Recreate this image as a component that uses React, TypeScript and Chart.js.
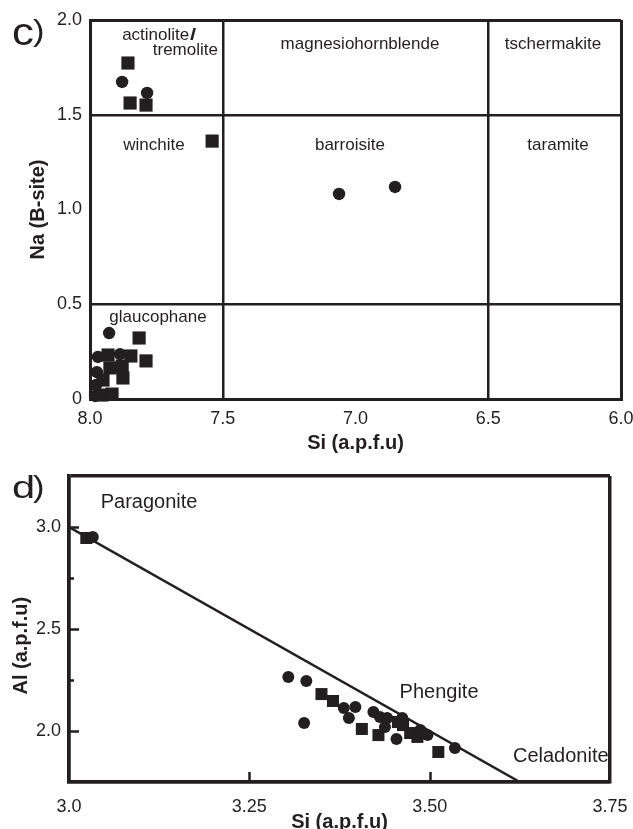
import React, { useEffect, useRef } from 'react';
import { Chart, registerables } from 'chart.js';

Chart.register(...registerables);

const INK = '#231f20';
const FONT = 'Arial, "Liberation Sans", Helvetica, sans-serif';

// ---------- Panel c: amphibole, Si vs Na (B-site) ----------
const cSiTicks = [8, 7.5, 7, 6.5, 6];
const cSiTickLabels = ['8.0', '7.5', '7.0', '6.5', '6.0'];
const cNaTicks = [0, 0.5, 1, 1.5, 2];
const cNaTickLabels = ['0', '0.5', '1.0', '1.5', '2.0'];
const cSiBoundaries = [8, 7.5, 6.5, 6];
const cNaBoundaries = [0, 0.5, 1.5, 2];

const amphCircleSi = [7.879, 7.785, 7.062, 6.851, 7.928, 7.970, 7.887, 7.974, 7.977, 7.981];
const amphCircleNa = [1.673, 1.615, 1.082, 1.119, 0.348, 0.222, 0.237, 0.142, 0.074, 0.016];
const amphSquareSi = [7.857, 7.849, 7.789, 7.540, 7.815, 7.932, 7.846, 7.789, 7.925, 7.879, 7.876, 7.951, 7.955, 7.917];
const amphSquareNa = [1.773, 1.562, 1.551, 1.361, 0.322, 0.232, 0.227, 0.201, 0.164, 0.174, 0.111, 0.100, 0.021, 0.026];

// ---------- Panel d: white mica, Si vs Al ----------
const dSiTicks = [3, 3.25, 3.5, 3.75];
const dSiTickLabels = ['3.0', '3.25', '3.50', '3.75'];
const dAlTicks = [2, 2.5, 3];
const dAlTickLabels = ['2.0', '2.5', '3.0'];
const dAlMinorTicks = [2.25, 2.75];
const dSiInnerTicks = [3.25, 3.5];

const micaCircleSi = [3.033, 3.304, 3.329, 3.326, 3.381, 3.397, 3.388, 3.422, 3.431, 3.441, 3.438, 3.462, 3.454, 3.487, 3.497, 3.535];
const micaCircleAl = [2.951, 2.265, 2.245, 2.039, 2.113, 2.118, 2.064, 2.093, 2.069, 2.064, 2.020, 2.064, 1.961, 2.005, 1.980, 1.917];
const micaSquareSi = [3.024, 3.350, 3.366, 3.406, 3.429, 3.463, 3.473, 3.483, 3.512, 3.456];
const micaSquareAl = [2.946, 2.181, 2.147, 2.010, 1.980, 2.029, 1.990, 1.971, 1.897, 2.044];

const tieLineSi = [3.0, 3.625];
const tieLineAl = [3.0, 1.75];

const zip = (xs: number[], ys: number[]) => xs.map((x, i) => ({ x, y: ys[i] }));
const near = (a: number, b: number) => Math.abs(a - b) < 1e-6;
const labelFrom = (vals: number[], labels: string[]) => (v: any) => {
  const i = vals.findIndex((t) => near(t, Number(v)));
  return i >= 0 ? labels[i] : '';
};

type Note = {
  text: string; x: number; y: number; size: number; bold?: boolean;
  align?: CanvasTextAlign; baseline?: CanvasTextBaseline; px?: boolean; sx?: number;
};

function notesPlugin(notes: Note[]) {
  return {
    id: 'notes',
    afterDraw(chart: any) {
      const { ctx } = chart;
      const xs = chart.scales.x;
      const ys = chart.scales.y;
      notes.forEach((n) => {
        const px = n.px ? n.x : xs.getPixelForValue(n.x);
        const py = n.px ? n.y : ys.getPixelForValue(n.y);
        ctx.save();
        ctx.font = `${n.bold ? 'bold ' : ''}${n.size}px ${FONT}`;
        ctx.fillStyle = INK;
        ctx.textAlign = n.align ?? 'center';
        ctx.textBaseline = n.baseline ?? 'middle';
        ctx.translate(px, py);
        ctx.scale(n.sx ?? 1, 1);
        ctx.fillText(n.text, 0, 0);
        ctx.restore();
      });
    },
  };
}

const inwardTicksPlugin = {
  id: 'inwardTicks',
  afterDatasetsDraw(chart: any) {
    const { ctx, chartArea } = chart;
    const xs = chart.scales.x;
    const ys = chart.scales.y;
    ctx.save();
    ctx.strokeStyle = INK;
    ctx.lineWidth = 2.5;
    ctx.beginPath();
    dAlTicks.forEach((v) => {
      const y = Math.round(ys.getPixelForValue(v)) + 0.5;
      ctx.moveTo(chartArea.left, y);
      ctx.lineTo(chartArea.left + 10, y);
    });
    dAlMinorTicks.forEach((v) => {
      const y = Math.round(ys.getPixelForValue(v)) + 0.5;
      ctx.moveTo(chartArea.left, y);
      ctx.lineTo(chartArea.left + 5, y);
    });
    dSiInnerTicks.forEach((v) => {
      const x = Math.round(xs.getPixelForValue(v)) + 0.5;
      ctx.moveTo(x, chartArea.bottom);
      ctx.lineTo(x, chartArea.bottom - 10);
    });
    ctx.stroke();
    ctx.restore();
  },
};

const tickFont = { family: FONT, size: 18 };
const titleFont = { family: FONT, size: 20, weight: 'bold' as const };

const cNotes: Note[] = [
  { text: 'c', x: 12, y: 45, size: 38, px: true, align: 'left', baseline: 'alphabetic', sx: 1.15 },
  { text: ')', x: 33, y: 41, size: 30, px: true, align: 'left', baseline: 'alphabetic', sx: 1.15 },
  { text: 'actinolite', x: 7.879, y: 1.921, size: 17, align: 'left' },
  { text: '/', x: 7.623, y: 1.921, size: 17, bold: true, align: 'left', sx: 1.3 },
  { text: 'tremolite', x: 7.518, y: 1.842, size: 17, align: 'right' },
  { text: 'magnesiohornblende', x: 6.983, y: 1.873, size: 17 },
  { text: 'tschermakite', x: 6.256, y: 1.873, size: 17 },
  { text: 'winchite', x: 7.759, y: 1.34, size: 17 },
  { text: 'barroisite', x: 7.021, y: 1.34, size: 17 },
  { text: 'taramite', x: 6.237, y: 1.34, size: 17 },
  { text: 'glaucophane', x: 7.744, y: 0.433, size: 17 },
];

const dNotes: Note[] = [
  { text: 'd', x: 12, y: 38, size: 32, px: true, align: 'left', baseline: 'alphabetic', sx: 1.3 },
  { text: ')', x: 33, y: 37, size: 30, px: true, align: 'left', baseline: 'alphabetic', sx: 1.15 },
  { text: 'Paragonite', x: 3.111, y: 3.118, size: 20 },
  { text: 'Phengite', x: 3.513, y: 2.191, size: 20 },
  { text: 'Celadonite', x: 3.748, y: 1.873, size: 20, align: 'right' },
];

function makeC(canvas: HTMLCanvasElement) {
  const edgeOrInner = (bounds: number[], edges: number[]) => ({
    color: (ctx: any) => (ctx.tick && bounds.some((b) => near(b, ctx.tick.value)) ? INK : 'rgba(0,0,0,0)'),
    lineWidth: (ctx: any) => (ctx.tick && edges.some((b) => near(b, ctx.tick.value)) ? 3 : 2.5),
    drawTicks: false,
  });
  return new Chart(canvas, {
    type: 'scatter',
    data: {
      datasets: [
        {
          label: 'Amphibole (circles)',
          data: zip(amphCircleSi, amphCircleNa),
          pointStyle: 'circle',
          pointRadius: 6.2,
          pointBackgroundColor: INK,
          pointBorderColor: INK,
          pointBorderWidth: 0,
          clip: false,
        } as any,
        {
          label: 'Amphibole (squares)',
          data: zip(amphSquareSi, amphSquareNa),
          pointStyle: 'rect',
          pointRadius: 9.3,
          pointBackgroundColor: INK,
          pointBorderColor: INK,
          pointBorderWidth: 0,
          clip: false,
        } as any,
      ],
    },
    options: {
      animation: false,
      responsive: false,
      devicePixelRatio: 1,
      events: [],
      layout: { padding: { left: 0, top: 20, right: 12, bottom: 0 } },
      plugins: { legend: { display: false }, tooltip: { enabled: false } },
      scales: {
        x: {
          type: 'linear',
          min: 6,
          max: 8,
          reverse: true,
          afterFit: (s: any) => { s.height = 61; s.paddingLeft = 0; s.paddingRight = 0; },
          ticks: { stepSize: 0.5, autoSkip: false, maxRotation: 0, padding: 9, color: INK, font: tickFont, callback: labelFrom(cSiTicks, cSiTickLabels) },
          grid: edgeOrInner(cSiBoundaries, [8, 6]),
          border: { display: true, color: INK, width: 3 },
          title: { display: true, text: 'Si (a.p.f.u)', color: INK, font: titleFont, padding: { top: 0, bottom: 5 } },
        },
        y: {
          type: 'linear',
          min: 0,
          max: 2,
          afterFit: (s: any) => { s.width = 90; s.paddingTop = 0; s.paddingBottom = 0; },
          ticks: { stepSize: 0.5, autoSkip: false, padding: 8, color: INK, font: tickFont, callback: labelFrom(cNaTicks, cNaTickLabels) },
          grid: edgeOrInner(cNaBoundaries, [0, 2]),
          border: { display: true, color: INK, width: 3 },
          title: { display: true, text: 'Na (B-site)', color: INK, font: titleFont, padding: { top: 26, bottom: 0 } },
        },
      },
    } as any,
    plugins: [notesPlugin(cNotes)],
  });
}

function makeD(canvas: HTMLCanvasElement) {
  const frame = (edges: number[]) => ({
    color: (ctx: any) => (ctx.tick && edges.some((b) => near(b, ctx.tick.value)) ? INK : 'rgba(0,0,0,0)'),
    lineWidth: 3.5,
    drawTicks: false,
  });
  return new Chart(canvas, {
    type: 'scatter',
    data: {
      datasets: [
        {
          label: 'White mica (circles)',
          data: zip(micaCircleSi, micaCircleAl),
          pointStyle: 'circle',
          pointRadius: 6,
          pointBackgroundColor: INK,
          pointBorderColor: INK,
          pointBorderWidth: 0,
        } as any,
        {
          label: 'White mica (squares)',
          data: zip(micaSquareSi, micaSquareAl),
          pointStyle: 'rect',
          pointRadius: 8.5,
          pointBackgroundColor: INK,
          pointBorderColor: INK,
          pointBorderWidth: 0,
        } as any,
        {
          label: 'Paragonite - Celadonite',
          data: zip(tieLineSi, tieLineAl),
          showLine: true,
          borderColor: INK,
          borderWidth: 2.5,
          pointRadius: 0,
          fill: false,
        } as any,
      ],
    },
    options: {
      animation: false,
      responsive: false,
      devicePixelRatio: 1,
      events: [],
      layout: { padding: { left: 0, top: 16, right: 23, bottom: 0 } },
      plugins: { legend: { display: false }, tooltip: { enabled: false } },
      scales: {
        x: {
          type: 'linear',
          min: 3,
          max: 3.75,
          afterFit: (s: any) => { s.height = 47; s.paddingLeft = 0; s.paddingRight = 0; },
          ticks: { stepSize: 0.25, autoSkip: false, maxRotation: 0, padding: 14, color: INK, font: tickFont, callback: labelFrom(dSiTicks, dSiTickLabels) },
          grid: frame([3, 3.75]),
          border: { display: true, color: INK, width: 3.5 },
          title: { display: true, text: 'Si (a.p.f.u)', color: INK, font: { ...titleFont, lineHeight: 0.7 }, padding: { top: 0, bottom: 0 } },
        },
        y: {
          type: 'linear',
          min: 1.75,
          max: 3.25,
          afterFit: (s: any) => { s.width = 69; s.paddingTop = 0; s.paddingBottom = 0; },
          ticks: { stepSize: 0.25, autoSkip: false, padding: 8, color: INK, font: tickFont, callback: labelFrom(dAlTicks, dAlTickLabels) },
          grid: frame([1.75, 3.25]),
          border: { display: true, color: INK, width: 3.5 },
          title: { display: true, text: 'Al (a.p.f.u)' + '\u00a0'.repeat(6), color: INK, font: titleFont, padding: { top: 9, bottom: 0 } },
        },
      },
    } as any,
    plugins: [notesPlugin(dNotes), inwardTicksPlugin],
  });
}

export default function App() {
  const refC = useRef<HTMLCanvasElement>(null);
  const refD = useRef<HTMLCanvasElement>(null);
  useEffect(() => {
    const c = refC.current ? makeC(refC.current) : null;
    const d = refD.current ? makeD(refD.current) : null;
    return () => {
      c?.destroy();
      d?.destroy();
    };
  }, []);
  return (
    <div style={{ position: 'absolute', left: 0, top: 0, width: 633, height: 829, background: '#fff', overflow: 'hidden' }}>
      <canvas ref={refC} width={633} height={460} style={{ position: 'absolute', left: 0, top: 0 }} />
      <canvas ref={refD} width={633} height={369} style={{ position: 'absolute', left: 0, top: 460 }} />
    </div>
  );
}
